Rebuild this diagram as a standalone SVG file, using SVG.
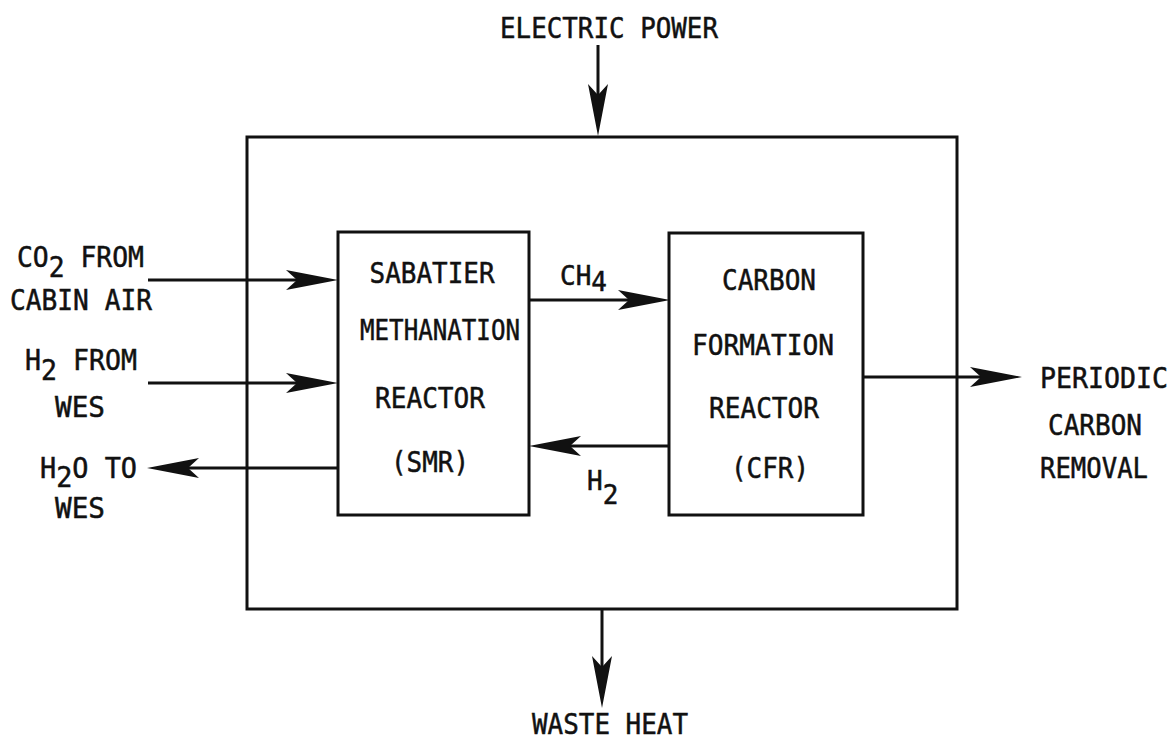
<svg xmlns="http://www.w3.org/2000/svg" width="1174" height="740" viewBox="0 0 1174 740">
<defs>
<style>
text{font-family:"DejaVu Sans Mono","Liberation Mono",monospace;font-size:28px;fill:#111;stroke:#111;stroke-width:0.5;}
.c{text-anchor:middle;}
.s{font-size:26px;}
.box{fill:none;stroke:#111;stroke-width:3;}
.ln{fill:none;stroke:#111;stroke-width:3;marker-end:url(#ah);}
</style>
<marker id="ah" markerUnits="userSpaceOnUse" markerWidth="56" markerHeight="22" viewBox="-55 -11 56 22" refX="-30" refY="0" orient="auto" overflow="visible">
<path d="M0,0 L-52,-10 L-41,0 L-52,10 Z" fill="#111"/>
</marker>
</defs>
<rect width="1174" height="740" fill="#fff"/>

<g id="system">
<rect class="box" x="247" y="137" width="710" height="472"/>
</g>

<g id="smr">
<rect class="box" x="338" y="232" width="191" height="283"/>
<text class="c" x="432" y="283" textLength="125" lengthAdjust="spacingAndGlyphs">SABATIER</text>
<text class="c" x="440" y="340" textLength="160" lengthAdjust="spacingAndGlyphs">METHANATION</text>
<text class="c" x="430" y="408" textLength="110" lengthAdjust="spacingAndGlyphs">REACTOR</text>
<text class="c" x="430" y="472" textLength="78" lengthAdjust="spacingAndGlyphs">(SMR)</text>
</g>

<g id="cfr">
<rect class="box" x="669" y="233" width="194" height="282"/>
<text class="c" x="769" y="290" textLength="94" lengthAdjust="spacingAndGlyphs">CARBON</text>
<text class="c" x="763" y="355" textLength="142" lengthAdjust="spacingAndGlyphs">FORMATION</text>
<text class="c" x="764" y="418" textLength="110" lengthAdjust="spacingAndGlyphs">REACTOR</text>
<text class="c" x="770" y="478" textLength="78" lengthAdjust="spacingAndGlyphs">(CFR)</text>
</g>

<g id="electric-power">
<text class="c" x="609" y="38" textLength="218" lengthAdjust="spacingAndGlyphs">ELECTRIC POWER</text>
</g>
<g id="waste-heat">
<text class="c" x="610" y="734" textLength="156" lengthAdjust="spacingAndGlyphs">WASTE HEAT</text>
</g>
<g id="co2-in">
<text x="17" y="267" textLength="127" lengthAdjust="spacingAndGlyphs">CO<tspan dy="10">2</tspan><tspan dy="-10"> FROM</tspan></text>
<text x="10" y="310" textLength="142" lengthAdjust="spacingAndGlyphs">CABIN AIR</text>
</g>
<g id="h2-in">
<text x="25" y="370" textLength="112" lengthAdjust="spacingAndGlyphs">H<tspan dy="10">2</tspan><tspan dy="-10"> FROM</tspan></text>
<text class="c" x="80" y="417" textLength="50" lengthAdjust="spacingAndGlyphs">WES</text>
</g>
<g id="h2o-out">
<text x="40" y="478" textLength="97" lengthAdjust="spacingAndGlyphs">H<tspan dy="9">2</tspan><tspan dy="-9">O TO</tspan></text>
<text class="c" x="80" y="518" textLength="50" lengthAdjust="spacingAndGlyphs">WES</text>
</g>
<g id="carbon-removal">
<text x="1040" y="388" textLength="128" lengthAdjust="spacingAndGlyphs">PERIODIC</text>
<text class="c" x="1095" y="435" textLength="94" lengthAdjust="spacingAndGlyphs">CARBON</text>
<text class="c" x="1094" y="478" textLength="108" lengthAdjust="spacingAndGlyphs">REMOVAL</text>
</g>

<g id="connectors">
<line class="ln" x1="148" y1="280" x2="308" y2="280"/>
<line class="ln" x1="148" y1="383" x2="308" y2="383"/>
<line class="ln" x1="338" y1="468" x2="177" y2="468"/>
<line class="ln" x1="529" y1="300" x2="640" y2="300"/>
<line class="ln" x1="669" y1="446" x2="559" y2="446"/>
<line class="ln" x1="863" y1="377" x2="992" y2="377"/>
<line class="ln" x1="598" y1="45" x2="598" y2="106"/>
<line class="ln" x1="602" y1="609" x2="602" y2="678"/>
<text class="s" x="560" y="285">CH<tspan dy="6">4</tspan></text>
<text class="s" x="587" y="490">H<tspan dy="14">2</tspan></text>
</g>
</svg>
